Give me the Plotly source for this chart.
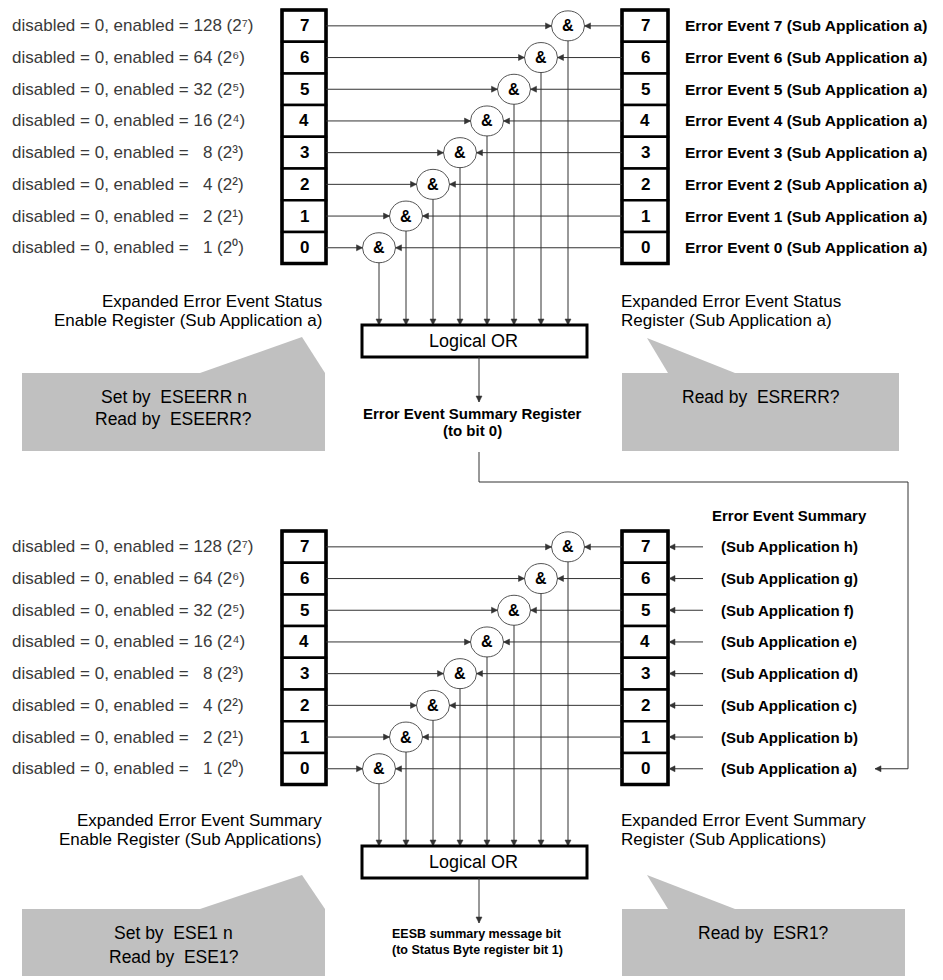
import math
import plotly.graph_objects as go

# register bits, listed top to bottom
bits = [7, 6, 5, 4, 3, 2, 1, 0]
enable_values = [128, 64, 32, 16, 8, 4, 2, 1]
bit_powers = ["2\u2077", "2\u2076", "2\u2075", "2\u2074", "2\u00b3", "2\u00b2", "2\u00b9", "2\u2070"]
event_labels = [
    "Error Event 7 (Sub Application a)",
    "Error Event 6 (Sub Application a)",
    "Error Event 5 (Sub Application a)",
    "Error Event 4 (Sub Application a)",
    "Error Event 3 (Sub Application a)",
    "Error Event 2 (Sub Application a)",
    "Error Event 1 (Sub Application a)",
    "Error Event 0 (Sub Application a)",
]
sub_app_labels = [
    "(Sub Application h)",
    "(Sub Application g)",
    "(Sub Application f)",
    "(Sub Application e)",
    "(Sub Application d)",
    "(Sub Application c)",
    "(Sub Application b)",
    "(Sub Application a)",
]
sub_app_header = "Error Event Summary"

top_enable_title = ["Expanded Error Event Status", "Enable Register (Sub Application a)"]
top_status_title = ["Expanded Error Event Status", "Register (Sub Application a)"]
top_enable_cmds = ["Set by \u00a0ESEERR n", "Read by \u00a0ESEERR?"]
top_status_cmds = ["Read by \u00a0ESRERR?"]
top_output = ["Error Event Summary Register", "(to bit 0)"]

bot_enable_title = ["Expanded Error Event Summary", "Enable Register (Sub Applications)"]
bot_status_title = ["Expanded Error Event Summary", "Register (Sub Applications)"]
bot_enable_cmds = ["Set by \u00a0ESE1 n", "Read by \u00a0ESE1?"]
bot_status_cmds = ["Read by \u00a0ESR1?"]
bot_output = ["EESB summary message bit", "(to Status Byte register bit 1)"]

# layout (pixel units, y grows downward)
W, H = 943, 980
ROW_H = 31.7
REG_TOP = 10
LBOX = (282, 326)
RBOX = (622, 668)
GATE_X0, GATE_DX, GATE_RX, GATE_RY = 379, 27, 16.5, 15
OR_X = (362, 587)
OR_Y = (325, 357)
OUT_X = 479
DY = 521
FONT = "Liberation Sans, Arial, sans-serif"
LINE = "#333333"
GREY = "#c0c0c0"

shapes = []
ann = []


def text(x, y, s, size, bold=False, anchor="left", color="black", pad=1):
    if bold:
        s = "<b>" + s + "</b>"
    ann.append(dict(x=x, y=y, text=s, showarrow=False, xanchor=anchor, yanchor="middle",
                    borderpad=pad, font=dict(family=FONT, size=size, color=color)))


def line(x0, y0, x1, y1):
    shapes.append(dict(type="line", x0=x0, y0=y0, x1=x1, y1=y1, line=dict(color=LINE, width=1)))


def arrow(x0, y0, x1, y1, ln=6, hw=3):
    # line plus a small filled head at (x1, y1)
    line(x0, y0, x1, y1)
    d = math.hypot(x1 - x0, y1 - y0)
    ux, uy = (x1 - x0) / d, (y1 - y0) / d
    bx, by = x1 - ln * ux, y1 - ln * uy
    p = "M %.1f %.1f L %.1f %.1f L %.1f %.1f Z" % (x1, y1, bx - hw * uy, by + hw * ux, bx + hw * uy, by - hw * ux)
    shapes.append(dict(type="path", path=p, fillcolor=LINE, line=dict(color=LINE, width=0.5)))


def register(xs, dy):
    for k, b in enumerate(bits):
        y0 = REG_TOP + dy + k * ROW_H
        shapes.append(dict(type="rect", x0=xs[0], x1=xs[1], y0=y0, y1=y0 + ROW_H,
                           line=dict(color="black", width=2.5), fillcolor="white"))
        text((xs[0] + xs[1]) / 2, y0 + ROW_H / 2, str(b), 17, bold=True, anchor="center")
    shapes.append(dict(type="rect", x0=xs[0], x1=xs[1], y0=REG_TOP + dy,
                       y1=REG_TOP + dy + 8 * ROW_H, line=dict(color="black", width=3.5)))


def callout(box, tip, base, lines, line_y):
    shapes.append(dict(type="path", path="M %s %s L %s %s L %s %s Z" % (base[0], box[2], tip[0], tip[1], base[1], box[2]),
                       fillcolor=GREY, line=dict(width=0)))
    shapes.append(dict(type="rect", x0=box[0], x1=box[1], y0=box[2], y1=box[3],
                       fillcolor=GREY, line=dict(width=0)))
    cx = (box[0] + box[1]) / 2
    for s, y in zip(lines, line_y):
        text(cx, y, s, 17.5, anchor="center", pad=0)


def title(x, y, lines, anchor):
    for i, s in enumerate(lines):
        text(x, y + 19 * i, s, 17, anchor=anchor, pad=0)


def section(dy):
    register(LBOX, dy)
    register(RBOX, dy)
    for k, (b, v, pw) in enumerate(zip(bits, enable_values, bit_powers)):
        cy = REG_TOP + dy + (k + 0.5) * ROW_H
        cx = GATE_X0 + GATE_DX * b
        pad = "\u2007" if v < 10 else ""
        text(10, cy, "disabled = 0, enabled = %s%d (%s)" % (pad, v, pw), 17, color="#3a3a3a")
        shapes.append(dict(type="circle", x0=cx - GATE_RX, x1=cx + GATE_RX, y0=cy - GATE_RY, y1=cy + GATE_RY,
                           line=dict(color="#555555", width=1), fillcolor="white"))
        text(cx, cy, "&", 16, bold=True, anchor="center")
        arrow(LBOX[1], cy, cx - GATE_RX, cy)
        arrow(RBOX[0], cy, cx + GATE_RX, cy)
        arrow(cx, cy + GATE_RY, cx, OR_Y[0] + dy)
    shapes.append(dict(type="rect", x0=OR_X[0], x1=OR_X[1], y0=OR_Y[0] + dy, y1=OR_Y[1] + dy,
                       line=dict(color="black", width=3), fillcolor="white"))
    text((OR_X[0] + OR_X[1]) / 2 - 1, (OR_Y[0] + OR_Y[1]) / 2 + dy, "Logical OR", 18, anchor="center")
    arrow(OUT_X, OR_Y[1] + dy, OUT_X, OR_Y[1] + dy + 45)


# top section: Sub Application a
section(0)
for k, s in enumerate(event_labels):
    text(683, REG_TOP + (k + 0.5) * ROW_H, s, 15.5, bold=True)
title(323, 301, top_enable_title, "right")
title(620, 301, top_status_title, "left")
callout((22, 325, 373, 451), (302, 337), (200, 325), top_enable_cmds, [397, 419])
callout((622, 899, 373, 451), (647, 338), (668, 735), top_status_cmds, [397])
text(472, 413, top_output[0], 15, bold=True, anchor="center", pad=0)
text(472, 430, top_output[1], 15, bold=True, anchor="center", pad=0)

# feed to bit 0 of the summary register
y_feed = REG_TOP + DY + 7.5 * ROW_H
shapes.append(dict(type="path", path="M %d 452 V 482 H 908 V %.1f" % (OUT_X, y_feed),
                   line=dict(color=LINE, width=1)))
arrow(908, y_feed, 875, y_feed)

# bottom section: summary of sub applications
section(DY)
text(710, 515, sub_app_header, 15, bold=True)
for k, s in enumerate(sub_app_labels):
    cy = REG_TOP + DY + (k + 0.5) * ROW_H
    text(719, cy, s, 15, bold=True)
    arrow(703, cy, RBOX[1] + 1, cy)
title(323, 820, bot_enable_title, "right")
title(620, 820, bot_status_title, "left")
callout((22, 325, 909, 976), (302, 875), (200, 325), bot_enable_cmds, [933, 957])
callout((622, 905, 909, 976), (647, 875), (668, 735), bot_status_cmds, [933])
text(477, 934, bot_output[0], 12.5, bold=True, anchor="center", pad=0)
text(477, 950, bot_output[1], 12.5, bold=True, anchor="center", pad=0)

fig = go.Figure()
fig.update_layout(
    width=W, height=H, margin=dict(l=0, r=0, t=0, b=0),
    paper_bgcolor="white", plot_bgcolor="white",
    xaxis=dict(range=[0, W], visible=False, fixedrange=True),
    yaxis=dict(range=[H, 0], visible=False, fixedrange=True),
    shapes=shapes, annotations=ann, showlegend=False,
)
# the page body has a default margin; drop it so pixels line up with the window
fig.write_html("out.html", config={"displayModeBar": False},
               post_script="document.body.style.margin='0';")
